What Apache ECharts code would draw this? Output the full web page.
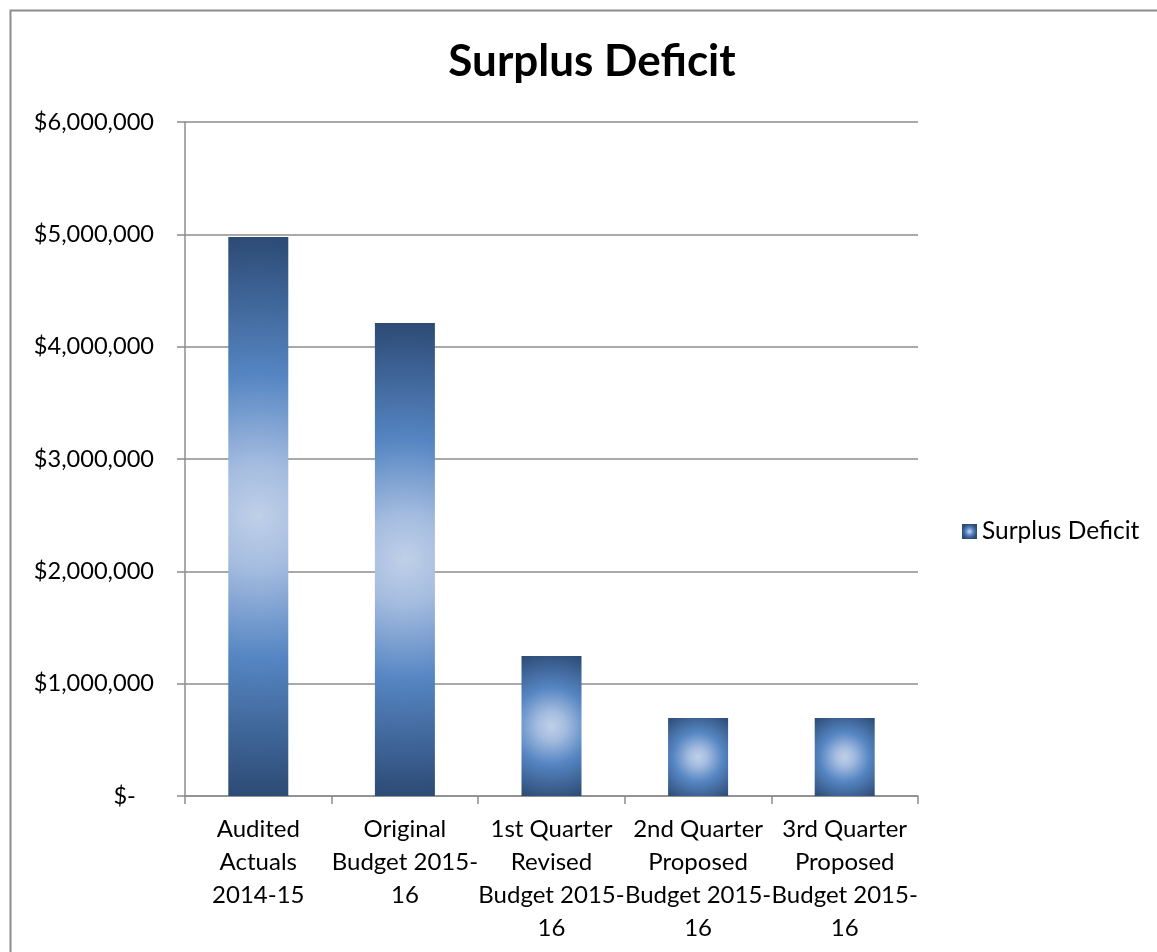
<!DOCTYPE html>
<html>
<head>
<meta charset="utf-8">
<title>Surplus Deficit</title>
<script src="https://cdn.jsdelivr.net/npm/echarts@6/dist/echarts.min.js"></script>
<style>
  html, body { margin: 0; padding: 0; background: #fff; }
  #chart { width: 1157px; height: 952px; }
</style>
</head>
<body>
<div id="chart"></div>
<script>
// data
var categories = [
  'Audited\nActuals\n2014-15',
  'Original\nBudget 2015-\n16',
  '1st Quarter\nRevised\nBudget 2015-\n16',
  '2nd Quarter\nProposed\nBudget 2015-\n16',
  '3rd Quarter\nProposed\nBudget 2015-\n16'
]
var surplusDeficit = [4976000, 4211000, 1246000, 694000, 694000]
var yTicks = [0, 1000000, 2000000, 3000000, 4000000, 5000000, 6000000]

var FONT = 'Lato'
var BAR_W = 60

// light centre, blue, dark edge
var stops = [
  { offset: 0, color: '#bfd0e8' },
  { offset: 0.18, color: '#a6bde0' },
  { offset: 0.5, color: '#5686c3' },
  { offset: 1, color: '#2c4a74' }
]

function radial (r) {
  return { type: 'radial', x: 0.5, y: 0.5, r: r, colorStops: stops }
}

function money (v) {
  if (v === 0) return '$-   '
  return '$' + v.toLocaleString('en-US')
}

var chart = echarts.init(document.getElementById('chart'))

var option = {
  animation: false,
  title: {
    text: 'Surplus Deficit',
    left: 587,
    textAlign: 'center',
    top: 35,
    textStyle: { fontFamily: FONT, fontSize: 44, fontWeight: 'bold', color: '#000' }
  },
  legend: {
    left: 957,
    top: 514,
    icon: 'rect',
    itemWidth: 15,
    itemHeight: 15,
    itemGap: 7,
    textStyle: { fontFamily: FONT, fontSize: 24.5, color: '#000' }
  },
  grid: { left: 185, right: 239, top: 122, bottom: 156 },
  xAxis: {
    type: 'category',
    data: categories,
    axisLine: { lineStyle: { color: '#8c8c8c', width: 1.5 } },
    axisTick: { show: true, length: 8, lineStyle: { color: '#8c8c8c', width: 1.5 } },
    axisLabel: {
      interval: 0,
      margin: 17,
      fontFamily: FONT,
      fontSize: 24,
      lineHeight: 33,
      color: '#000',
      align: 'center'
    }
  },
  yAxis: {
    type: 'value',
    min: yTicks[0],
    max: yTicks[yTicks.length - 1],
    interval: 1000000,
    axisLine: { show: true, lineStyle: { color: '#8c8c8c', width: 1.5 } },
    axisTick: { show: true, length: 8, lineStyle: { color: '#8c8c8c', width: 1.5 } },
    splitLine: { lineStyle: { color: '#8c8c8c', width: 1.5 } },
    axisLabel: {
      margin: 31,
      fontFamily: FONT,
      fontSize: 23.6,
      color: '#000',
      formatter: money
    }
  },
  graphic: [{
    type: 'rect',
    shape: { x: 10.5, y: 10.5, width: 1200, height: 1000 },
    style: { fill: 'none', stroke: '#8c8c8c', lineWidth: 2 },
    silent: true
  }],
  series: [{
    name: 'Surplus Deficit',
    type: 'bar',
    barWidth: BAR_W,
    itemStyle: { color: radial(0.5) },
    data: surplusDeficit.map(function (v) { return { value: v } })
  }]
}

chart.setOption(option)

// radius of the gradient reaches the bar corners; zrender scales r by min(w, h)
var zeroY = chart.convertToPixel({ yAxisIndex: 0 }, 0)
var styled = surplusDeficit.map(function (v) {
  var h = zeroY - chart.convertToPixel({ yAxisIndex: 0 }, v)
  var reach = Math.sqrt(Math.pow(BAR_W / 2, 2) + Math.pow(h / 2, 2))
  return { value: v, itemStyle: { color: radial(reach / Math.min(BAR_W, h)) } }
})
chart.setOption({ series: [{ data: styled }] })
</script>
</body>
</html>
